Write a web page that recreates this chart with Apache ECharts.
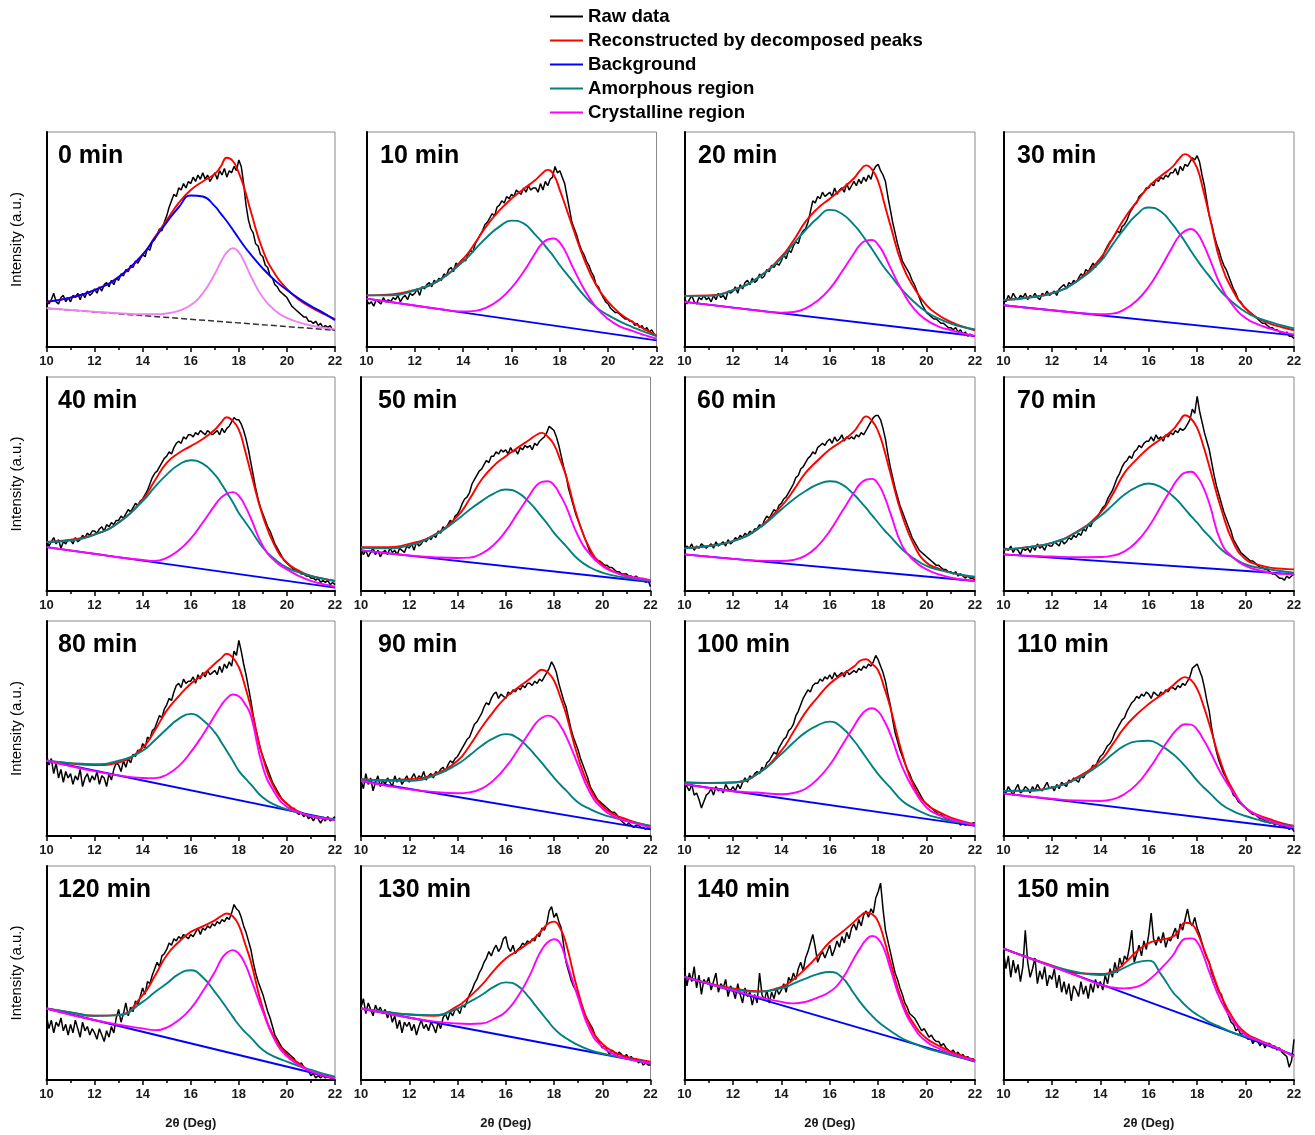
<!DOCTYPE html>
<html><head><meta charset="utf-8">
<script src="https://cdn.jsdelivr.net/npm/echarts@6/dist/echarts.min.js"></script>
<style>html,body{margin:0;padding:0;background:#fff}#c{width:1315px;height:1135px}</style>
</head><body><div id="c"></div>
<script>
// ---------- DATA ----------
const rawX = [10,10.1,10.2,10.3,10.4,10.5,10.6,10.7,10.8,10.9,11,11.1,11.2,11.3,11.4,11.5,11.6,11.7,11.8,11.9,12,12.1,12.2,12.3,12.4,12.5,12.6,12.7,12.8,12.9,13,13.1,13.2,13.3,13.4,13.5,13.6,13.7,13.8,13.9,14,14.1,14.2,14.3,14.4,14.5,14.6,14.7,14.8,14.9,15,15.1,15.2,15.3,15.4,15.5,15.6,15.7,15.8,15.9,16,16.1,16.2,16.3,16.4,16.5,16.6,16.7,16.8,16.9,17,17.1,17.2,17.3,17.4,17.5,17.6,17.7,17.8,17.9,18,18.1,18.2,18.3,18.4,18.5,18.6,18.7,18.8,18.9,19,19.1,19.2,19.3,19.4,19.5,19.6,19.7,19.8,19.9,20,20.1,20.2,20.3,20.4,20.5,20.6,20.7,20.8,20.9,21,21.1,21.2,21.3,21.4,21.5,21.6,21.7,21.8,21.9,22];
const fitX = [10,11,12,13,14,14.5,15,15.5,16,16.5,17,17.25,17.5,17.75,18,18.25,18.5,19,19.5,20,20.5,21,21.5,22];
const panelLabels = ['0 min','10 min','20 min','30 min','40 min','50 min','60 min','70 min','80 min','90 min','100 min','110 min','120 min','130 min','140 min','150 min'];
const legendNames = ['Raw data','Reconstructed by decomposed peaks','Background','Amorphous region','Crystalline region'];
const xTitle = '2θ (Deg)';
const yTitle = 'Intensity (a.u.)';

const raw0 = [23,20,22,25,21,20,23,24,21,23,21,24,23,25,22,25,23,26,24,25,27,25,28,26,29,30,28,31,29,32,31,34,33,36,35,38,37,40,39,41,43,42,46,45,49,50,52,55,54,58,61,65,68,71,70,74,73,76,74,77,76,79,77,80,78,81,78,80,77,79,81,78,82,80,83,79,82,81,84,82,87,84,76,66,59,55,53,48,47,43,42,38,37,33,32,29,28,26,25,24,23,21,19,18,17,16,15,14,14,12,12,11,12,10,11,9,10,9,10,8,8];
const raw10 = [22,20,21,19,22,21,20,23,21,22,21,23,22,24,21,23,24,22,25,24,25,27,24,28,27,29,30,28,31,30,32,31,34,33,36,37,35,39,38,40,41,40,43,45,44,48,50,52,54,57,58,60,62,61,65,66,68,67,70,69,71,70,73,72,71,74,72,75,73,74,74,72,76,73,77,75,78,79,84,81,82,79,76,70,64,58,55,52,48,45,43,40,38,35,33,29,28,25,23,21,20,18,17,16,16,15,14,13,13,12,12,10,11,9,10,8,9,7,8,6,5];
const raw20 = [23,20,22,24,21,20,23,22,24,22,23,21,24,22,25,23,24,22,26,25,26,28,25,29,27,30,31,29,32,30,31,34,32,33,36,35,38,37,39,38,40,43,41,45,44,47,49,48,52,54,55,58,63,68,67,70,69,72,70,71,72,70,74,71,73,74,72,76,73,75,77,75,78,76,79,77,80,78,82,84,85,82,80,77,70,64,58,53,48,44,40,38,36,34,31,29,26,23,20,18,16,15,14,13,13,12,11,11,10,9,9,8,9,7,8,6,7,5,6,5,5];
const raw30 = [23,21,24,22,25,23,22,24,23,25,22,24,23,25,23,22,25,24,26,24,25,26,24,27,28,29,27,30,29,31,30,32,34,33,36,35,37,39,37,40,40,42,45,47,49,50,52,54,53,56,57,59,62,64,66,67,70,71,72,74,74,76,75,78,77,79,78,80,79,81,81,83,80,84,82,85,84,86,88,87,89,86,80,75,68,61,57,52,48,45,41,38,36,33,30,27,25,22,21,19,18,17,16,15,14,13,12,11,11,10,9,9,8,8,7,7,6,7,5,5,4];
const raw40 = [24,21,23,25,22,24,20,23,22,24,24,22,25,23,24,26,25,27,26,28,28,27,29,30,28,31,30,32,31,33,33,35,34,36,38,37,39,41,40,42,43,45,47,50,53,55,56,58,60,62,63,65,64,67,69,70,69,72,71,73,73,72,74,73,75,74,73,75,74,73,74,75,73,76,74,76,77,79,81,80,80,78,75,71,66,60,54,48,43,39,36,33,30,28,25,22,20,18,16,14,13,12,11,10,10,9,8,8,7,7,6,6,5,6,4,5,4,5,3,4,3];
const raw50 = [20,17,19,16,18,20,17,19,16,18,19,17,20,18,19,17,20,19,18,21,20,22,19,23,21,22,24,23,25,24,26,25,28,27,30,29,31,33,32,35,36,38,41,43,44,46,50,52,54,56,57,59,61,60,63,63,65,64,66,65,66,64,67,65,66,64,67,66,68,67,68,66,69,68,70,71,72,74,77,76,75,72,68,63,58,54,48,44,40,36,33,30,27,24,21,18,17,15,14,14,13,12,12,11,11,10,9,9,8,8,8,7,7,6,7,6,5,6,4,5,2];
const raw60 = [19,21,20,22,19,21,20,22,21,20,21,22,20,23,21,22,23,21,24,22,23,25,24,26,25,27,26,28,27,29,29,31,30,33,35,34,36,38,37,40,41,43,44,46,48,50,53,54,57,58,60,62,63,65,64,67,68,69,68,70,71,69,72,70,71,73,70,72,71,72,71,73,72,74,73,75,77,79,81,82,82,80,76,71,64,58,53,48,44,40,37,34,31,28,25,23,21,19,18,17,16,15,14,13,12,12,11,10,10,9,9,8,9,7,8,7,6,7,6,6,5];
const raw70 = [18,20,19,21,18,20,19,17,20,19,20,18,21,19,22,20,21,19,22,21,21,23,22,21,24,22,23,25,24,26,25,27,26,29,28,31,30,33,34,35,37,39,40,43,45,47,50,53,55,58,60,61,63,62,65,66,68,67,69,70,70,72,70,73,71,72,70,73,72,74,73,75,74,76,75,76,78,80,85,83,91,84,79,74,70,66,60,54,49,45,41,37,34,31,28,24,22,20,18,17,16,15,14,14,13,12,11,11,10,10,9,8,8,7,6,6,5,7,6,7,8];
const raw80 = [38,33,36,29,34,27,31,25,30,27,29,24,28,26,31,23,27,29,25,28,26,30,24,28,27,23,29,26,31,34,33,30,35,32,36,34,38,37,40,39,43,41,46,45,49,50,53,56,55,59,61,64,63,67,70,71,69,73,71,72,72,74,71,75,73,76,74,77,75,76,77,75,79,76,80,78,81,79,86,84,91,86,80,75,69,63,56,50,45,40,37,34,31,28,25,23,21,19,17,16,15,14,12,13,11,10,11,9,10,8,9,7,9,8,6,8,7,9,7,8,9];
const raw90 = [26,22,29,24,27,21,25,28,23,26,24,27,25,23,28,25,27,24,26,28,25,27,29,26,28,27,30,26,28,29,27,30,29,31,32,30,33,35,34,36,37,39,41,43,45,46,49,52,53,55,57,60,62,61,64,66,67,64,66,65,64,67,66,68,67,69,68,70,69,71,71,70,72,71,73,72,74,76,78,81,79,76,71,67,63,60,55,50,46,43,40,36,33,30,27,23,21,19,17,16,15,14,13,12,11,11,10,8,7,6,5,6,5,4,5,5,4,4,3,4,3];
const raw100 = [25,23,21,24,19,20,17,13,16,19,20,22,19,23,21,22,20,24,22,21,23,21,24,22,25,27,25,28,27,29,30,29,32,31,34,35,37,39,38,41,43,45,46,49,50,52,56,58,61,64,66,68,67,70,71,71,73,72,74,73,75,73,76,74,75,76,74,77,75,76,77,76,78,77,79,78,80,79,81,84,82,79,76,72,66,61,54,48,44,40,37,34,31,29,26,24,22,20,18,16,15,14,13,12,11,10,10,9,8,8,7,8,6,7,5,6,5,6,5,6,6];
const raw110 = [22,20,23,21,19,22,24,20,21,23,22,20,23,21,24,22,21,23,25,22,23,21,24,22,25,24,23,26,25,27,26,25,28,27,29,30,31,33,32,35,37,38,40,42,43,45,48,50,52,54,55,58,60,62,63,65,64,66,65,67,66,64,67,66,65,67,66,68,67,69,69,68,70,69,71,70,72,74,78,79,80,77,74,69,63,58,50,44,39,35,32,29,27,24,22,19,18,16,15,14,13,12,11,10,10,9,8,8,7,7,6,7,5,6,5,5,4,5,3,4,2];
const raw120 = [30,24,28,22,27,25,29,23,26,21,26,22,28,24,20,27,23,25,21,24,22,19,24,21,18,23,20,25,22,29,33,27,31,36,30,34,32,37,35,39,43,40,46,45,49,52,55,53,58,59,61,64,63,66,65,67,66,68,67,66,68,67,69,71,68,71,70,72,71,73,72,74,73,75,74,76,75,78,82,80,79,76,72,69,65,61,55,50,46,43,40,36,32,29,25,21,19,17,15,14,13,12,11,10,8,7,8,6,5,4,2,3,1,2,1,2,1,2,1,1,1];
const raw130 = [34,38,31,36,33,30,35,32,34,31,33,29,32,27,30,24,28,22,27,25,27,23,26,21,25,28,24,26,23,27,25,22,27,24,29,31,28,32,30,33,33,31,35,34,37,40,42,45,47,50,52,55,57,60,58,61,63,60,62,66,67,62,60,63,59,61,62,64,63,65,64,66,65,68,67,71,70,73,79,81,76,78,74,71,63,55,51,47,44,42,40,36,33,30,28,26,24,21,19,17,15,16,14,12,14,13,11,13,12,10,12,10,11,9,10,8,9,7,8,7,7];
const raw140 = [52,44,50,46,53,43,49,40,47,45,48,42,46,50,41,45,43,47,39,44,42,38,45,40,36,43,39,41,35,40,36,50,40,37,42,36,41,38,43,40,42,45,41,48,46,50,47,52,55,51,57,60,64,68,62,55,58,60,57,60,63,58,61,65,62,67,64,69,66,71,73,70,75,72,77,79,76,80,78,85,88,92,80,70,65,60,55,50,47,43,40,36,34,31,30,29,27,25,23,24,22,20,21,19,18,18,16,17,15,14,13,14,12,13,11,12,10,11,9,10,9];
const raw150 = [60,52,58,48,56,50,54,46,53,70,55,48,52,57,45,51,47,53,44,49,47,52,43,49,41,46,40,45,37,44,42,39,46,40,44,38,45,41,47,43,46,42,49,45,52,48,55,50,57,53,58,56,62,70,55,59,63,58,65,61,68,78,66,63,67,64,69,62,66,65,68,71,66,73,70,75,80,74,72,76,71,68,64,60,57,55,50,47,44,41,40,36,33,30,27,26,23,24,21,22,21,19,20,17,19,18,16,18,15,17,17,15,16,14,15,13,12,11,6,9,19];

const red0 = [21,23,26.5,32.5,43,51,59,67,73,77,80.5,84,88,86.5,81,73,63,45,34,27,22,18.5,15.5,13];
const amor0 = [21,23,26.5,32.5,43,50.5,58,65,70.5,70,65.5,62,58.5,54.5,50.5,46.5,43,36.5,31,26.5,22.5,19,16,12.5];
const crys0 = [18,17.2,16.4,15.7,15.2,15.2,15.6,16.8,19.5,25,34,39.5,44,46,44,39,33,23,17,13.5,11.5,10,9,8.3];
const bg0 = [18,7.8];

const red10 = [24,24.5,26.5,31,41,48.5,56.8,63.5,69,73.5,77.8,80.5,82.4,80,73,65,56.8,41,28.8,21,15.5,11.7,8.3,5.4];
const amor10 = [24,24,26.4,31,39.7,45.5,51.3,56,58.8,57.5,52,49,45.5,42,38,34.5,31,24,18.5,14.8,11.8,9.3,7,5.1];
const crys10 = [22.5,20.9,19.3,17.7,16.5,16.8,18.5,22,27.5,35,44,48,50,50.5,48.5,44,38,27,18.5,13,9.5,7.5,5.5,3.9];
const bg10 = [22.5,3.1];

const red20 = [23.8,24,26.5,32,42,49.5,58.3,64.5,69,73.5,78.5,82,84.5,82.5,77,67,56.8,38.1,27.2,19.4,14.8,11.7,9.5,7.8];
const amor20 = [23.8,23.8,26.4,31.9,41.2,48,54.4,60,63.8,62,56.8,53.5,49.5,45.5,41.2,37,33.5,26.4,20.8,16.3,13.2,10.9,9.3,8.2];
const crys20 = [21,19.7,18.3,17,16,16.3,18,21.5,27,35,43.5,47.5,49.5,49.8,47.5,43,37,26,17.5,12.5,9.5,7.8,6.3,5.1];
const bg20 = [21,5.1];

const red30 = [21.8,23,25,30.5,41.2,50.5,59.9,67.5,74.6,79.5,84,87.5,89.7,88,83.2,73,61.4,38.1,25.7,17.9,13.5,10.9,9.2,7.8];
const amor30 = [21.8,22.9,24.9,30.3,39.7,47.5,55.2,61.5,64.9,63,56.8,53,49,44.5,40.4,36.5,33,25.7,20.5,16.3,13.5,11.7,10,8.6];
const crys30 = [19.4,18.2,17.1,16,15.2,15.5,17.5,21.5,28,37,47,51.5,54,54.9,53,48,41.5,28,19,13.5,10.5,8.6,7,5.8];
const bg30 = [19.4,5.4];

const red40 = [22.9,24,26.4,32,42.8,51.5,59.9,64.5,67.7,71,75.4,78.5,81.2,79.5,75.4,66,55.2,35,21,13.2,9.5,7,5.8,4.7];
const amor40 = [22.9,23.6,26.4,31.9,42,48.5,54.4,59,61.1,59.5,54.4,50.5,46,41.5,36.5,32.5,28.5,20.2,14.8,10.9,8.7,7,5.8,4.7];
const crys40 = [20.5,18.9,17.4,15.8,14.5,14,15.5,19,24.5,32,40,43.5,45.5,46.2,44.5,40,34,21,14,10.1,7,4.7,3.2,2];
const bg40 = [20.5,1.6];

const red50 = [20.5,20.5,22,26,35,43,52.1,58.5,63,67,70.8,72.8,73.9,72,68.4,61.5,53.7,33.4,19.4,12.4,9,7,6,5.1];
const amor50 = [20.2,19.9,21.3,25.7,33.4,38,42,45.5,47.4,46,41.2,38,34.5,31,27.2,24,21,14.8,11,8.6,7.2,6.2,5.4,4.7];
const crys50 = [19,17.8,16.6,15.8,15.4,15.6,17.5,21.5,28,36.5,45,49,51,51.3,49.5,45,39.5,25.7,17,11.7,8.8,7,6,5.1];
const bg50 = [19,4.2];

const red60 = [19.9,21,23.3,28.8,39.7,47,55.2,61,66.1,70,74.6,78.5,81.6,79.5,74.6,66,55.2,35,21,13.2,10.5,8.6,7.3,6.2];
const amor60 = [19.9,21,23.3,28.8,38.1,42.8,46.7,49.8,51.3,49.8,45.1,42,38.8,35.3,31.9,28.5,25.5,19.4,15,11.7,9.9,8.6,7.5,6.7];
const crys60 = [17.1,16,15,14.2,14,14.5,16.5,21,28,37,46,50,52,52.4,50,44.5,36.5,21,14,10.1,7.8,6.2,5.3,4.7];
const bg60 = [17.1,4.7];

const red70 = [19.4,20.5,22.5,27.5,36.5,45,55.2,61.5,66.9,71,75.4,79,82.1,80.5,76.2,68,58.3,38.1,22.5,14.8,12.3,10.9,10.4,10.1];
const amor70 = [19.4,20.5,22.5,27.2,35,40,45.1,48.5,50.2,48.5,44.3,41.5,38.3,35,31.9,28.5,25.5,19.4,15.5,12.4,11,10.1,9.2,8.6];
const crys70 = [17.1,16.5,16.1,15.8,15.9,16.5,18.5,23,30,39.5,49,53,55.3,55.7,53.5,48.5,41,22.5,15.5,11.7,9.8,8.6,8,7.8];
const bg70 = [17.1,7.8];

const red80 = [35,33.7,33,34.2,41.2,49,58.3,65,70.8,75,80.1,82.5,84.8,83,78.5,70,59.9,36.5,22,15,11.3,9.3,8.3,7.5];
const amor80 = [35,33.9,33.4,35,39.7,44.5,49.8,54.5,56.8,54,48.2,44,39.5,35,30.3,27,24,17.9,14.5,12.4,10.8,9.3,8.5,7.8];
const crys80 = [35,32.5,30.2,28.2,27,26.9,28.5,32.5,39,47,56,60.5,64,65.8,65,61.5,56,32,20,13.5,11,9.3,8.2,7.5];
const bg80 = [35,7.5];

const red90 = [26.4,26,26.4,28.5,35,42,50.5,58,64.5,69,73.1,75.5,77.3,76,72.3,65,56.8,36.5,22,14,10,7.8,6,4.7];
const amor90 = [26.4,25.7,25.7,28,33.4,37.5,42,45.5,47.4,45.5,40.4,37.2,34,30.5,27.2,24,21.2,15.6,12.5,10.1,8.4,7,5.8,4.7];
const crys90 = [25.7,23.5,21.7,20.5,19.9,20.3,22,26,32,40,48.5,52.5,55,56,55,51.5,46.5,33,20,12.8,9,7,5.5,3.9];
const bg90 = [25.7,3.1];

const red100 = [24.9,24.7,24.9,28.8,39.7,48.5,57.5,64.5,70.8,75,78.8,81.5,82.2,80,77,69,59.9,38.1,22.5,14.8,11.2,8.6,6.8,5.4];
const amor100 = [24.9,24.6,24.9,28.8,38.1,43.5,48.2,51.5,53.2,50.5,44.3,40.5,36.5,32.5,28.8,25.5,22.5,16.3,12.7,10.1,8.4,7,6.1,5.4];
const crys100 = [24.1,22.3,20.8,20.2,19.4,20,22,26.5,33,42,51,55.5,58.5,59.4,58,53.5,47.5,31.9,21,13.2,9.8,7.8,6.3,5.1];
const bg100 = [24.1,4.7];

const red110 = [21,21.2,22.5,27,35,42.5,50.5,56.5,61.4,65.5,70,72.5,73.9,72.5,68.4,61,52.1,33.4,21,13.2,9.8,7.8,6,4.7];
const amor110 = [21,21,22.5,26.4,33.4,38,42,44,44.3,42,38.1,35.5,32.5,29.2,25.7,22.8,20.2,14.8,11.5,9.3,7.6,6.2,5.3,4.7];
const crys110 = [19.8,18.5,17.3,16.5,16.3,17,19.5,24,31,39.5,47.5,50.5,52,51.8,49.5,45,40,28.8,20,13.2,9.5,7,5.2,3.9];
const bg110 = [19.8,3.4];

const red120 = [33.4,31.6,30,30.3,39.7,48.5,58.3,64.5,69.2,71.8,74.6,76.5,77.8,76.5,72.3,64,55.2,33.4,19.4,12,7.8,3.9,2,0.8];
const amor120 = [33.4,31.6,30,30.3,36.5,41,45.1,49.5,51.3,48,41.2,37.5,33.5,29.5,25.7,22.5,19.8,14,10.8,8.6,6.5,4.7,3,1.6];
const crys120 = [33.4,30.5,28,25.8,24.1,23.3,24.5,28,33.4,41.5,50.5,56,59.5,60.7,59,54.5,47.4,31.9,18.5,11,7,4,2.2,0.8];
const bg120 = [33.4,0.8];

const red130 = [33.4,31.6,30.6,30,34.5,39,44.3,51,56.8,60.5,64.5,67,70,73,74,71,63.8,41.2,25,17,13,10.9,9.6,8.6];
const amor130 = [33.4,31.9,30.6,30.3,33.4,36.5,39.7,43.5,45.6,44,38.1,34.5,31,27.5,24.1,21.5,19.5,16.3,14,12.4,11.2,10.1,9,7.8];
const crys130 = [33.4,31.3,29.1,27.4,26.4,26.2,26.4,28.5,31.9,39,49,55.5,61,64.5,65.8,64,56,38.5,23,15.5,12,10,8.8,7.8];
const bg130 = [33.4,7.8];

const red140 = [48.2,45.1,42.8,41.5,43.5,47,52.1,58,64.5,69,73.9,76.5,78.3,77.5,73.9,65.5,55.2,36.5,25.7,19.4,16,13.2,11.2,9.3];
const amor140 = [48.2,45.1,42.3,41.2,42.8,45,47.4,49.5,50.5,48,40.4,36.5,33,30,27.2,25,23,19.4,17,14.8,13.2,11.7,10.3,8.9];
const crys140 = [48.2,45,41.9,38.9,36.5,35.8,36.5,38.5,41.2,47,56.8,61.5,65.5,67.3,66,61,52.1,35,24.1,17.9,14.8,12.4,10.6,8.9];
const bg140 = [48.2,8.6];

const red150 = [61.4,57.3,53.5,50,49.5,50.5,54.5,60,64,65.5,67,70,73.5,73,69,62,54.5,39,28.5,22,19,16.5,14,11];
const amor150 = [61.4,57.2,53.3,50.5,49,50,52.5,55,55.8,49.5,41,38,35,32.5,30.5,28.8,27,24.5,22,20.3,18.4,16.3,13.8,11];
const crys150 = [61.4,57.2,53.1,48.9,44.5,43.2,42.8,43.5,46.7,52,58.3,63,66,66.2,64.5,58.5,50.5,36.5,27.2,21,18.5,16.3,13.8,11];
const bg150 = [61.4,11.6];

// ---------- TABLE ----------
const panels = [
  [raw0,red0,amor0,crys0,bg0],[raw10,red10,amor10,crys10,bg10],[raw20,red20,amor20,crys20,bg20],[raw30,red30,amor30,crys30,bg30],
  [raw40,red40,amor40,crys40,bg40],[raw50,red50,amor50,crys50,bg50],[raw60,red60,amor60,crys60,bg60],[raw70,red70,amor70,crys70,bg70],
  [raw80,red80,amor80,crys80,bg80],[raw90,red90,amor90,crys90,bg90],[raw100,red100,amor100,crys100,bg100],[raw110,red110,amor110,crys110,bg110],
  [raw120,red120,amor120,crys120,bg120],[raw130,red130,amor130,crys130,bg130],[raw140,red140,amor140,crys140,bg140],[raw150,red150,amor150,crys150,bg150]
];

// ---------- LAYOUT ----------
const F = 'Liberation Sans, Arial, sans-serif';
const colX = [[46.5,366.5,684.5,1003.5],[46.5,361,684.5,1003.5],[46.5,361,684.5,1003.5],[46.5,361,684.5,1003.5]];
const colW = [[288.5,290,290.5,290.5],[288.5,289.5,290.5,290.5],[288.5,289.5,290.5,290.5],[288.5,289.5,290.5,290.5]];
const rowY = [132,377,621,866];
const rowH = [215,214,215,214];
const titleX = [[58,380,698,1017],[58,378,697,1017],[58,378,697,1017],[58,378,697,1017]];

const grid=[], xAxis=[], yAxis=[], series=[], title=[];
panels.forEach((p,i)=>{
  const r=Math.floor(i/4), c=i%4, first=(i===0);
  const [raw,red,amor,crys,bg]=p;
  grid.push({left:colX[r][c], top:rowY[r], width:colW[r][c], height:rowH[r], show:true, borderColor:'#8a8a8a', borderWidth:1, containLabel:false});
  xAxis.push({type:'value', gridIndex:i, min:10, max:22, interval:2,
    axisLine:{onZero:false, lineStyle:{color:'#000', width:2}},
    axisTick:{length:5, lineStyle:{color:'#000', width:1.5}},
    minorTick:{show:true, splitNumber:2, length:3, lineStyle:{color:'#000', width:1.5}},
    splitLine:{show:false},
    axisLabel:{fontSize:13, fontWeight:'bold', color:'#1a1a1a', fontFamily:F, margin:8},
    name: r===3 ? xTitle : '', nameLocation:'middle', nameGap:37,
    nameTextStyle:{fontSize:13, fontWeight:'bold', color:'#1a1a1a', fontFamily:F}});
  yAxis.push({type:'value', gridIndex:i, min:0, max:100,
    axisLine:{show:true, onZero:false, lineStyle:{color:'#000', width:2}},
    axisTick:{show:false}, axisLabel:{show:false}, splitLine:{show:false},
    name: c===0 ? yTitle : '', nameLocation:'middle', nameGap:22,
    nameTextStyle:{fontSize:15, color:'#000', fontFamily:F}});
  title.push({text:panelLabels[i], left:titleX[r][c], top:rowY[r]+12, padding:0,
    textStyle:{fontSize:25, fontWeight:'bold', color:'#000', fontFamily:F}});
  const base = {type:'line', xAxisIndex:i, yAxisIndex:i, showSymbol:false, symbol:'none', silent:true, animation:false};
  series.push(Object.assign({}, base, {name:legendNames[0], data:rawX.map((x,j)=>[x,raw[j]]),
    itemStyle:{color:'#000'}, lineStyle:{color:'#000', width:1.5}, z:2}));
  series.push(Object.assign({}, base, {name:legendNames[1], data:fitX.map((x,j)=>[x,red[j]]), smooth:0.5,
    itemStyle:{color:'#ff0000'}, lineStyle:{color:'#ff0000', width:1.9}, z:3}));
  const bgC = first ? '#333' : '#0000ff';
  series.push(Object.assign({}, base, {name:first?'baseline 0':legendNames[2], data:[[10,bg[0]],[22,bg[1]]],
    itemStyle:{color:bgC}, lineStyle:{color:bgC, width:first?1.5:1.9, type:first?'dashed':'solid'}, z:4}));
  const amC = first ? '#0000ff' : '#008080';
  series.push(Object.assign({}, base, {name:first?'peak A 0':legendNames[3], data:fitX.map((x,j)=>[x,amor[j]]), smooth:0.5,
    itemStyle:{color:amC}, lineStyle:{color:amC, width:1.9}, z:5}));
  const crC = first ? '#ee82ee' : '#ff00ff';
  series.push(Object.assign({}, base, {name:first?'peak B 0':legendNames[4], data:fitX.map((x,j)=>[x,crys[j]]), smooth:0.5,
    itemStyle:{color:crC}, lineStyle:{color:crC, width:1.9}, z:6}));
});

const chart = echarts.init(document.getElementById('c'), null, {renderer:'canvas'});
chart.setOption({
  animation:false,
  backgroundColor:'#fff',
  title, grid, xAxis, yAxis, series,
  legend:{data:legendNames, orient:'vertical', left:550, top:7, padding:0, icon:'rect', itemWidth:33, itemHeight:2, itemGap:5,
    selectedMode:false, textStyle:{fontSize:18.6, fontWeight:'bold', color:'#000', fontFamily:F}}
});
</script>
</body></html>
